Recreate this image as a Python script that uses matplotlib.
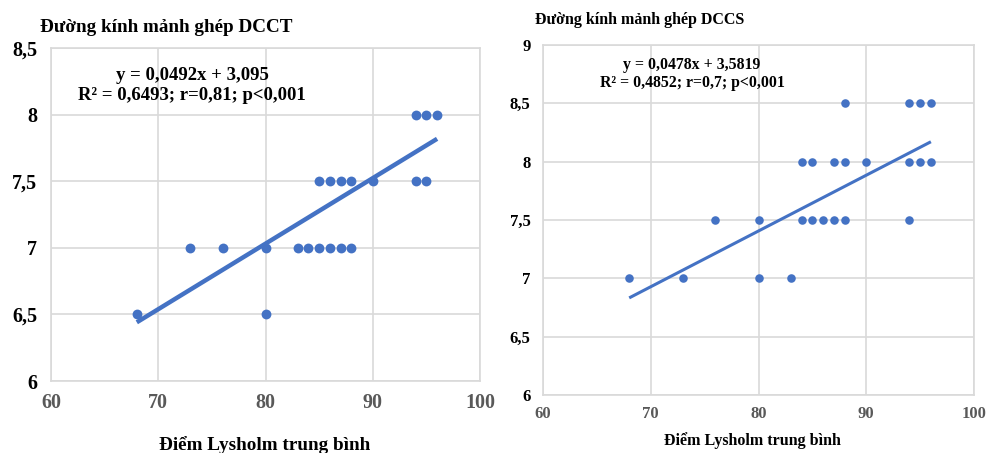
import matplotlib
matplotlib.use("Agg")
import matplotlib.pyplot as plt
import numpy as np

W, H = 988, 453

# DCCT panel data (Lysholm score vs graft diameter)
dcct_x = [94, 95, 96, 85, 86, 87, 88, 90, 94, 95, 73, 76, 80, 83, 84, 85, 86, 87, 88, 68, 80]
dcct_y = [8, 8, 8, 7.5, 7.5, 7.5, 7.5, 7.5, 7.5, 7.5, 7, 7, 7, 7, 7, 7, 7, 7, 7, 6.5, 6.5]
dcct_fit = (0.0492, 3.095)
dcct_eq = ["y = 0,0492x + 3,095", "R² = 0,6493; r=0,81; p<0,001"]

# DCCS panel data
dccs_x = [88, 94, 95, 96, 84, 85, 87, 88, 90, 94, 95, 96, 76, 80, 84, 85, 86, 87, 88, 94, 68, 73, 80, 83]
dccs_y = [8.5, 8.5, 8.5, 8.5, 8, 8, 8, 8, 8, 8, 8, 8, 7.5, 7.5, 7.5, 7.5, 7.5, 7.5, 7.5, 7.5, 7, 7, 7, 7]
dccs_fit = (0.0478, 3.5819)
dccs_eq = ["y = 0,0478x + 3,5819", "R² = 0,4852; r=0,7; p<0,001"]

x_ticks = [60, 70, 80, 90, 100]
dcct_yticks = [6, 6.5, 7, 7.5, 8, 8.5]
dccs_yticks = [6, 6.5, 7, 7.5, 8, 8.5, 9]
xlabel = "Điểm Lysholm trung bình"
titles = ["Đường kính mảnh ghép DCCT", "Đường kính mảnh ghép DCCS"]

blue = "#4472C4"
grid_c = "#d9d9d9"
serif = ["Liberation Serif", "DejaVu Serif"]

plt.rcParams["font.family"] = serif
plt.rcParams["font.weight"] = "bold"


def fx(x):
    return x / W


def fy(y):
    return 1 - y / H


def fmt(v):
    s = ("%g" % v).replace(".", ",")
    return s


fig = plt.figure(figsize=(W / 100, H / 100), dpi=100)


def panel(box, xs, ys, fit, yticks, lw, ms, ysize, xsize, ypad, xpad):
    l, t, r, b = box
    ax = fig.add_axes([fx(l), fy(b), fx(r - l), (b - t) / H])
    ax.set_xlim(60, 100)
    ax.set_ylim(yticks[0], yticks[-1])
    ax.set_xticks(x_ticks)
    ax.set_yticks(yticks)
    ax.set_xticklabels([str(v) for v in x_ticks], fontsize=xsize,
                       color="#595959", fontweight="bold")
    ax.set_yticklabels([fmt(v) for v in yticks], fontsize=ysize,
                       color="black", fontweight="bold")
    ax.tick_params(length=0)
    ax.tick_params(axis="y", pad=ypad)
    ax.tick_params(axis="x", pad=xpad)
    ax.grid(True, color=grid_c, linewidth=1.2)
    ax.set_axisbelow(True)
    for s in ax.spines.values():
        s.set_color(grid_c)
        s.set_linewidth(1.2)
    ax.scatter(xs, ys, s=ms, color=blue, zorder=3, linewidths=0)
    lx = np.array([min(xs), max(xs)])
    ax.plot(lx, fit[0] * lx + fit[1], color=blue, linewidth=lw,
            solid_capstyle="butt", zorder=2)
    return ax


panel((51, 48, 480, 381), dcct_x, dcct_y, dcct_fit, dcct_yticks,
      3.2, 50, 14.5, 14.5, 10, 9)
panel((543, 45, 974, 395), dccs_x, dccs_y, dccs_fit, dccs_yticks,
      2.2, 38, 12, 12, 9, 8)

# titles
fig.text(fx(40), fy(27), titles[0], fontsize=13.8, fontweight="bold",
         ha="left", va="center")
fig.text(fx(535), fy(20), titles[1], fontsize=11.5, fontweight="bold",
         ha="left", va="center")

# equations
fig.text(fx(192), fy(75), dcct_eq[0], fontsize=13.5, fontweight="bold",
         ha="center", va="center")
fig.text(fx(192), fy(95), dcct_eq[1], fontsize=13.5, fontweight="bold",
         ha="center", va="center")
fig.text(fx(692), fy(65), dccs_eq[0], fontsize=11.4, fontweight="bold",
         ha="center", va="center")
fig.text(fx(692), fy(83), dccs_eq[1], fontsize=11.4, fontweight="bold",
         ha="center", va="center")

# x labels
fig.text(fx(265), fy(445), xlabel, fontsize=13.8, fontweight="bold",
         ha="center", va="center")
fig.text(fx(752), fy(441), xlabel, fontsize=11.5, fontweight="bold",
         ha="center", va="center")

fig.savefig("out.png", dpi=100)
